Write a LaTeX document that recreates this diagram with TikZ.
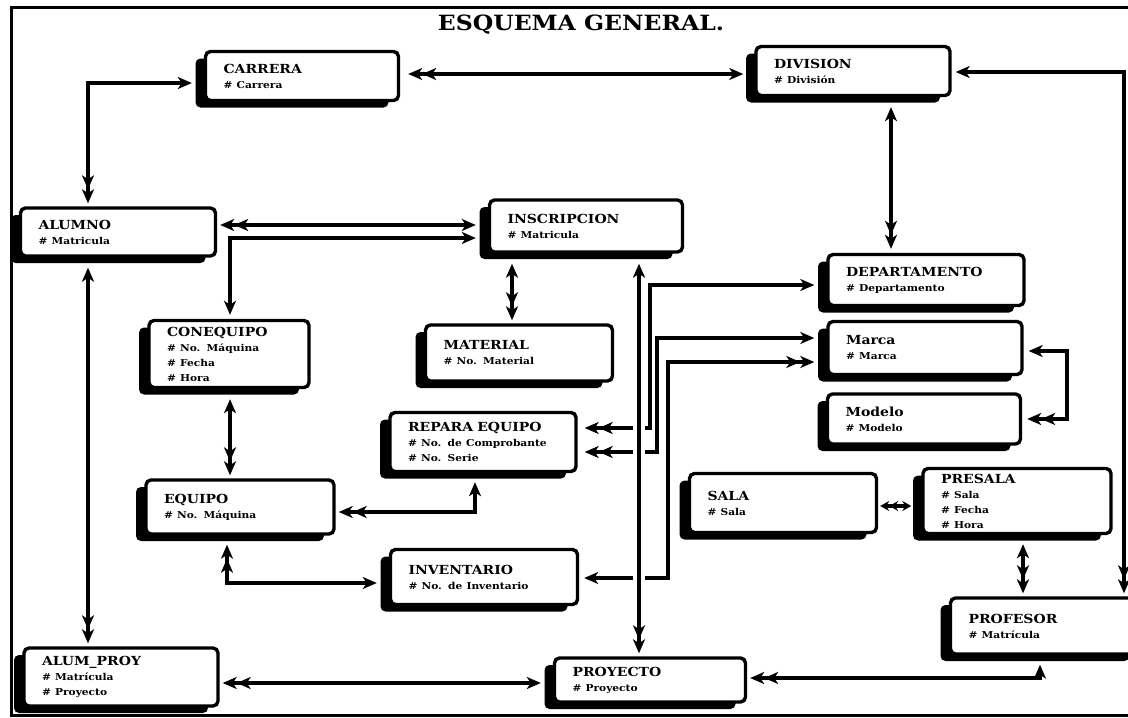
\documentclass[tikz,border=0pt]{standalone}
\usepackage{fontspec}
\setmainfont{DejaVu Serif}[FakeStretch=1.12]
\usepackage{tikz}
\usetikzlibrary{arrows.meta,shadows}
\newcommand{\pkey}[1]{{\fontsize{9.5}{15}\selectfont\#\ #1}}
\tikzset{
  ent/.style={draw, line width=3.4pt, rounded corners=5pt, fill=white,
              align=left, inner xsep=18pt, inner ysep=4pt,
              font=\fontsize{12.5}{15}\selectfont\bfseries,
              drop shadow={fill=black, opacity=1, shadow xshift=-10pt, shadow yshift=-7pt}},
  rel/.style={line width=3.4pt},
  hop/.style={preaction={draw=white, line width=12pt, -, shorten <=22pt, shorten >=22pt}},
  small tips/.style={>={Stealth[length=9pt, width=10pt, inset=3pt]}},
  >={Stealth[length=14pt, width=12pt, inset=4pt]},
}
\begin{document}
\begin{tikzpicture}[x=1pt, y=-1pt]
  \useasboundingbox (0,0) rectangle (1128,718);
  \clip (0,0) rectangle (1128,718);
  \draw[line width=3pt] (1128,7) -- (11,7) -- (11,715) -- (1128,715);
  \node[font=\fontsize{21}{24}\selectfont\bfseries] (title) at (581,25) {ESQUEMA GENERAL.};

  \node[ent, text width=157pt, minimum height=49pt] (carrera) at (302,76)
    {CARRERA\\ \pkey{Carrera}};
  \node[ent, text width=158pt, minimum height=49pt] (division) at (853,71)
    {DIVISION\\ \pkey{División}};
  \node[ent, text width=159pt, minimum height=48pt] (alumno) at (118,232)
    {ALUMNO\\ \pkey{Matricula}};
  \node[ent, text width=157pt, minimum height=52pt] (inscripcion) at (586,226)
    {INSCRIPCION\\ \pkey{Matricula}};
  \node[ent, text width=124pt, minimum height=67pt] (conequipo) at (229,354)
    {CONEQUIPO\\ \pkey{No. Máquina}\\ \pkey{Fecha}\\ \pkey{Hora}};
  \node[ent, text width=151pt, minimum height=56pt] (material) at (519,353)
    {MATERIAL\\ \pkey{No. Material}};
  \node[ent, text width=160pt, minimum height=51pt] (departamento) at (926,280)
    {DEPARTAMENTO\\ \pkey{Departamento}};
  \node[ent, text width=158pt, minimum height=53pt] (marca) at (925,348)
    {Marca\\ \pkey{Marca}};
  \node[ent, text width=157pt, minimum height=50pt] (modelo) at (924,419)
    {Modelo\\ \pkey{Modelo}};
  \node[ent, text width=150pt, minimum height=59pt] (repara) at (483,442)
    {REPARA EQUIPO\\ \pkey{No. de Comprobante}\\ \pkey{No. Serie}};
  \node[ent, text width=152pt, minimum height=54pt] (equipo) at (240,507)
    {EQUIPO\\ \pkey{No. Máquina}};
  \node[ent, text width=151pt, minimum height=55pt] (inventario) at (484,577)
    {INVENTARIO\\ \pkey{No. de Inventario}};
  \node[ent, text width=158pt, minimum height=58pt] (alumproy) at (121,677)
    {ALUM\_PROY\\ \pkey{Matrícula}\\ \pkey{Proyecto}};
  \node[ent, text width=155pt, minimum height=44pt] (proyecto) at (650,680)
    {PROYECTO\\ \pkey{Proyecto}};
  \node[ent, text width=151pt, minimum height=59pt] (sala) at (783,503)
    {SALA\\ \pkey{Sala}};
  \node[ent, text width=152pt, minimum height=65pt, inner ysep=2pt] (presala) at (1017,501)
    {PRESALA\\ \pkey{Sala}\\ \pkey{Fecha}\\ \pkey{Hora}};
  \node[ent, text width=153pt, minimum height=56pt] (profesor) at (1045,626)
    {PROFESOR\\ \pkey{Matrícula}};

  \draw[rel, <<->, shorten <=8pt, shorten >=11pt] (carrera.east |- 0,74) -- (division.west |- 0,74);
  \draw[rel, <<->, shorten <=3pt, shorten >=12pt] (alumno.north -| 88,0) |- (carrera.west |- 0,83);
  \draw[rel, <->>, shorten <=10pt, shorten >=4pt] (division.south -| 891,0) -- (departamento.north -| 891,0);
  \draw[rel, <->>, shorten <=4pt, shorten >=3pt] (division.east |- 0,72) -| (profesor.north -| 1124,0);
  \draw[rel, <<->, shorten <=3pt, shorten >=12pt] (alumno.east |- 0,225) -- (inscripcion.west |- 0,225);
  \draw[rel, <->, shorten <=12pt, shorten >=4pt] (inscripcion.west |- 0,238) -| (conequipo.north -| 230,0);
  \draw[rel, <->>, shorten <=10pt, shorten >=3pt] (inscripcion.south -| 512,0) -- (material.north -| 512,0);
  \draw[rel, <->>, shorten <=10pt, shorten >=3pt] (alumno.south -| 88,0) -- (alumproy.north -| 88,0);
  \draw[rel, <->>, shorten <=10pt, shorten >=3pt] (conequipo.south -| 230,0) -- (equipo.north -| 230,0);
  \draw[rel, <<->, shorten <=3pt, shorten >=9pt] (equipo.east |- 0,512) -| (repara.south -| 475,0);
  \draw[rel, <<->, shorten <=9pt, shorten >=12pt] (equipo.south -| 227,0) |- (inventario.west |- 0,583);
  \draw[rel, <<->, shorten <=3pt, shorten >=12pt] (alumproy.east |- 0,683) -- (proyecto.west |- 0,683);
  \draw[rel, <<->, shorten <=3pt, shorten >=9pt] (proyecto.east |- 0,678) -| (profesor.south -| 1040,0);
  \draw[rel, small tips, <<->, shorten <=2pt, shorten >=10pt] (sala.east |- 0,506) -- (presala.west |- 0,506);
  \draw[rel, <->>, shorten <=9pt, shorten >=3pt] (presala.south -| 1023,0) -- (profesor.north -| 1023,0);
  \draw[rel, <->>, shorten <=5pt, shorten >=5pt] (marca.east |- 0,351) -| (1067,419) -- (modelo.east |- 0,419);
  \draw[rel, <<->, shorten <=7pt, shorten >=12pt] (repara.east |- 0,428) -| (650,285) -- (departamento.west |- 0,285);
  \draw[rel, <<->, shorten <=7pt, shorten >=12pt] (repara.east |- 0,452) -| (657,338) -- (marca.west |- 0,338);
  \draw[rel, <->>, shorten <=5pt, shorten >=12pt] (inventario.east |- 0,578) -| (668,362) -- (marca.west |- 0,362);
  \draw[rel, hop, <->>, shorten <=10pt, shorten >=3pt] (inscripcion.south -| 639,0) -- (proyecto.north -| 639,0);
\end{tikzpicture}
\end{document}
